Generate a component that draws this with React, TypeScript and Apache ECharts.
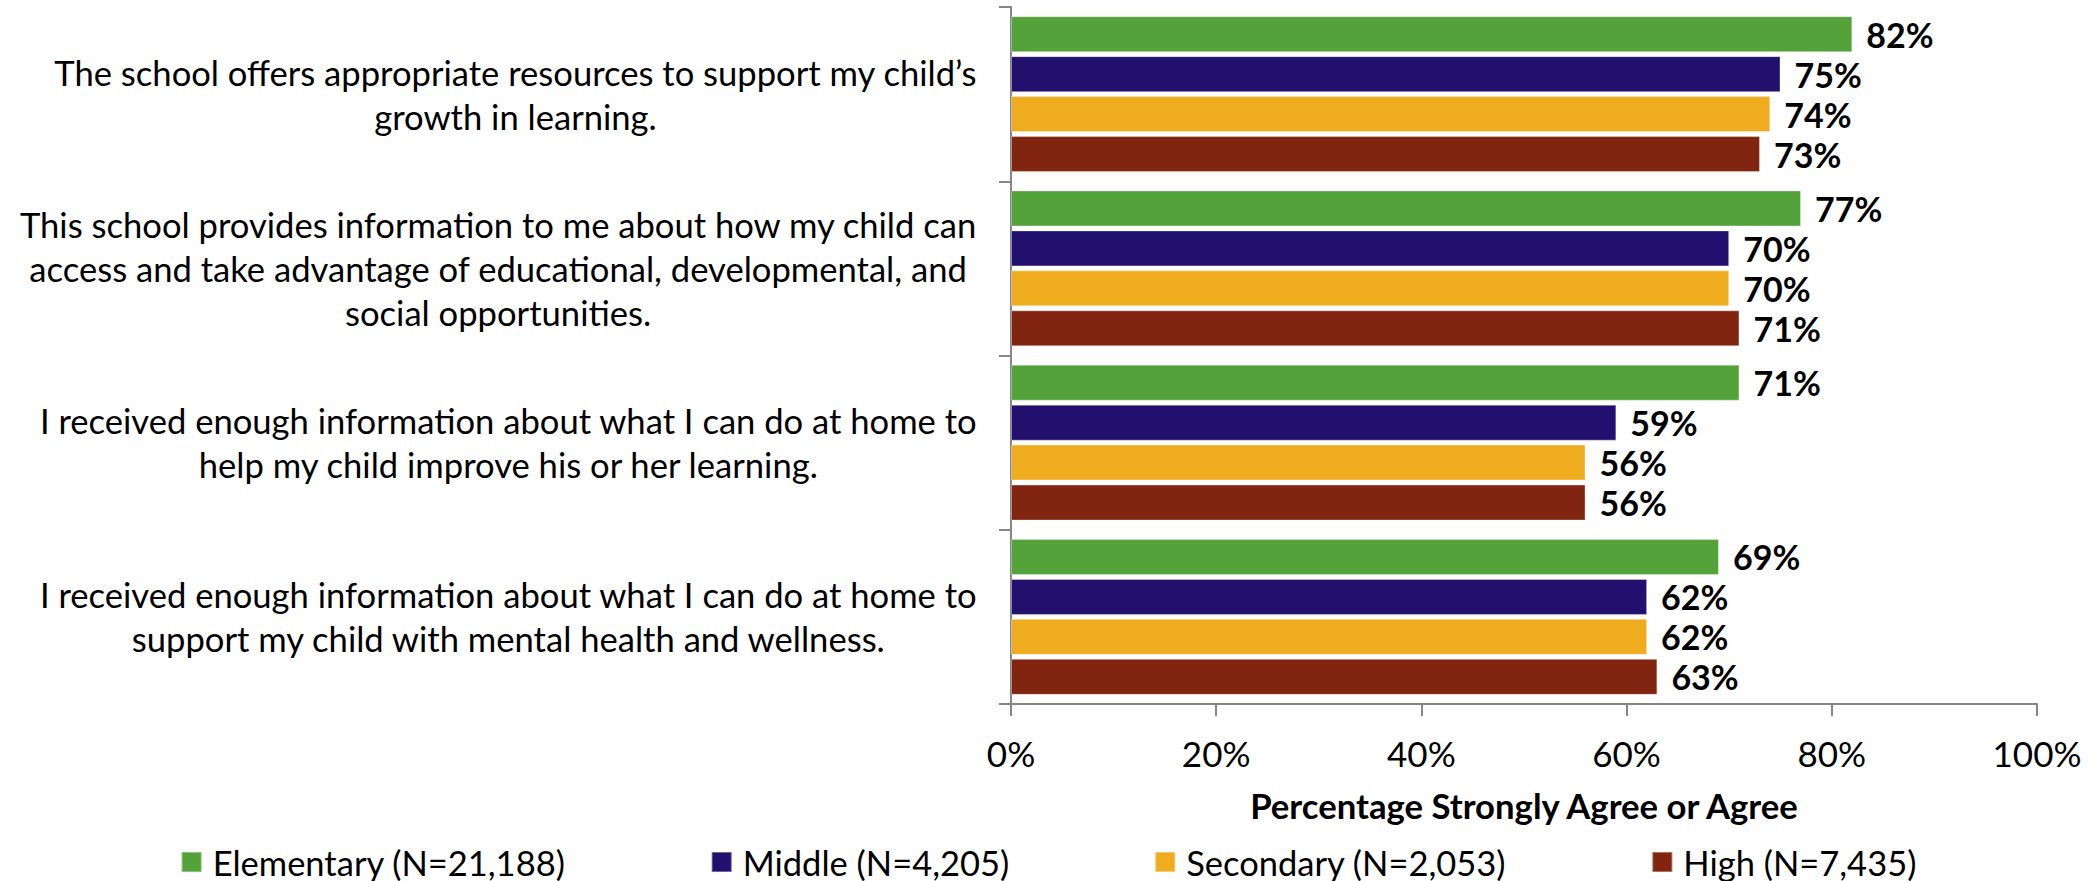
import React, { useEffect, useRef } from "react";
import * as echarts from "echarts";

const categories = [
  "The school offers appropriate resources to support my child’s\ngrowth in learning.",
  "This school provides information to me about how my child can\naccess and take advantage of educational, developmental, and\nsocial opportunities.",
  "I received enough information about what I can do at home to\nhelp my child improve his or her learning.",
  "I received enough information about what I can do at home to\nsupport my child with mental health and wellness.",
];
const seriesNames = [
  "Elementary (N=21,188)",
  "Middle (N=4,205)",
  "Secondary (N=2,053)",
  "High (N=7,435)",
];
const elementary = [82, 77, 71, 69];
const middle = [75, 70, 59, 62];
const secondary = [74, 70, 56, 62];
const high = [73, 71, 56, 63];
const colors = ["#54A23A", "#21106E", "#F0AC1F", "#812510"];
const xMin = 0;
const xMax = 100;
const xStep = 20;
const xAxisTitle = "Percentage Strongly Agree or Agree";

const FONT = "Lato, 'Open Sans', sans-serif";

export default function App() {
  const ref = useRef<HTMLDivElement>(null);
  useEffect(() => {
    if (!ref.current) return;
    const chart = echarts.init(ref.current, undefined, { renderer: "svg" });
    const values = [elementary, middle, secondary, high];
    const axisStyle = { color: "#868686", width: 2 };
    chart.setOption({
      animation: false,
      textStyle: { fontFamily: FONT },
      grid: { left: 1011, right: 60, top: 7, bottom: 177 },
      legend: {
        data: seriesNames,
        left: "center",
        top: 839,
        icon: "rect",
        itemWidth: 20,
        itemHeight: 20,
        itemGap: 145,
        textStyle: {
          fontFamily: FONT,
          fontSize: 34.5,
          lineHeight: 36,
          color: "#000",
          padding: [0, 0, 0, 6],
        },
      },
      xAxis: {
        type: "value",
        min: xMin,
        max: xMax,
        interval: xStep,
        name: xAxisTitle,
        nameLocation: "middle",
        nameGap: 84,
        nameTextStyle: { fontFamily: FONT, fontSize: 34.7, fontWeight: "bold", color: "#000" },
        axisLine: { show: true, lineStyle: axisStyle },
        axisTick: { show: true, length: 12, lineStyle: axisStyle },
        axisLabel: { formatter: "{value}%", margin: 31, fontFamily: FONT, fontSize: 35, color: "#000" },
        splitLine: { show: false },
      },
      yAxis: {
        type: "category",
        inverse: true,
        data: categories,
        axisLine: { show: true, lineStyle: axisStyle },
        axisTick: { show: true, length: 12, lineStyle: axisStyle },
        axisLabel: {
          margin: 34,
          formatter: (v: string) => `{c|${v}}`,
          rich: {
            c: { align: "center", fontFamily: FONT, fontSize: 34.6, lineHeight: 44, color: "#000" },
          },
        },
      },
      series: seriesNames.map((name, i) => ({
        name,
        type: "bar",
        data: values[i],
        barWidth: 36,
        barGap: "11%",
        itemStyle: { color: colors[i], borderColor: "rgba(255,255,255,0.35)", borderWidth: 1 },
        label: {
          show: true,
          position: "right",
          distance: 14,
          formatter: "{c}%",
          fontFamily: FONT,
          fontSize: 34,
          fontWeight: "bold",
          color: "#000",
        },
      })),
    });
    return () => chart.dispose();
  }, []);
  return (
    <div
      ref={ref}
      style={{ position: "fixed", left: 0, top: 0, width: 2097, height: 881, background: "#fff" }}
    />
  );
}
